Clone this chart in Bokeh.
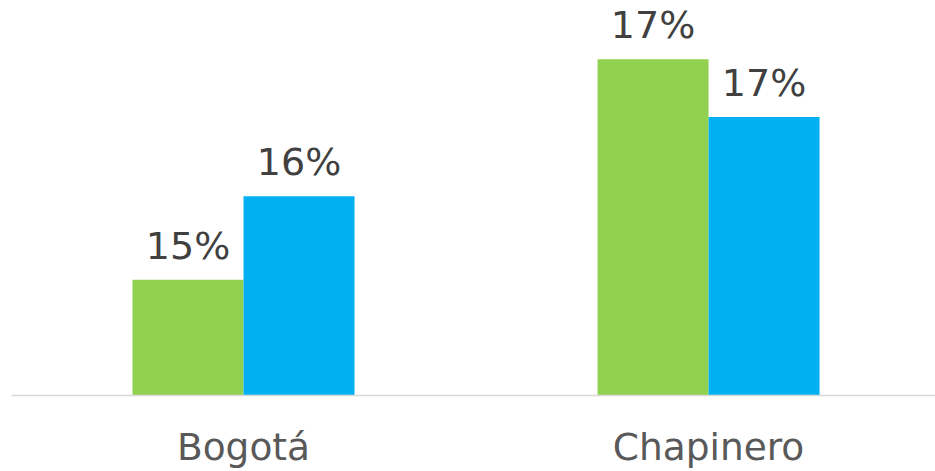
from bokeh.plotting import figure
from bokeh.models import ColumnDataSource, Range1d, FixedTicker
from bokeh.core.properties import value
from bokeh.embed import file_html
from bokeh.resources import INLINE

categories = ["Bogotá", "Chapinero"]
series_green = [14.8, 17.28]
series_blue = [15.74, 16.63]
green_labels = ["15%", "17%"]
blue_labels = ["16%", "17%"]

GREEN = "#92D050"
BLUE = "#00B0F0"
FONT = "DejaVu Sans"

W, H = 935, 471
p = figure(width=W, height=H, output_backend="svg", toolbar_location=None,
           x_range=Range1d(0.0011, 1.988), y_range=Range1d(13.5, 17.94),
           min_border_left=11, min_border_right=0, min_border_top=0, min_border_bottom=75)
p.outline_line_color = None
p.xgrid.visible = False
p.ygrid.visible = False
p.yaxis.visible = False
p.background_fill_color = "white"
p.border_fill_color = "white"

centers = [i + 0.5 for i in range(len(categories))]
bw = 111 / 465
src = ColumnDataSource(dict(
    xg=[c - bw / 2 for c in centers], xb=[c + bw / 2 for c in centers],
    g=series_green, b=series_blue, gl=green_labels, bl=blue_labels))

p.vbar(x="xg", top="g", bottom=13.5, width=bw, color=GREEN, source=src, line_color=None)
p.vbar(x="xb", top="b", bottom=13.5, width=bw, color=BLUE, source=src, line_color=None)

p.text(x="xg", y="g", text="gl", source=src, text_align="center", text_baseline="alphabetic",
       y_offset=-34, text_font=value(FONT), text_font_size="38px", text_color="#404040")
p.text(x="xb", y="b", text="bl", source=src, text_align="center", text_baseline="alphabetic",
       y_offset=-34, text_font=value(FONT), text_font_size="38px", text_color="#404040")

ax = p.xaxis[0]
ax.ticker = FixedTicker(ticks=centers)
ax.major_label_overrides = {c: n for c, n in zip(centers, categories)}
ax.major_tick_line_color = None
ax.minor_tick_line_color = None
ax.axis_line_color = "#d9d9d9"
ax.axis_line_width = 1.5
ax.major_label_text_font = FONT
ax.major_label_text_font_size = "37.5px"
ax.major_label_text_color = "#595959"
ax.major_label_standoff = 23

open("out.html", "w").write(file_html(p, INLINE))
